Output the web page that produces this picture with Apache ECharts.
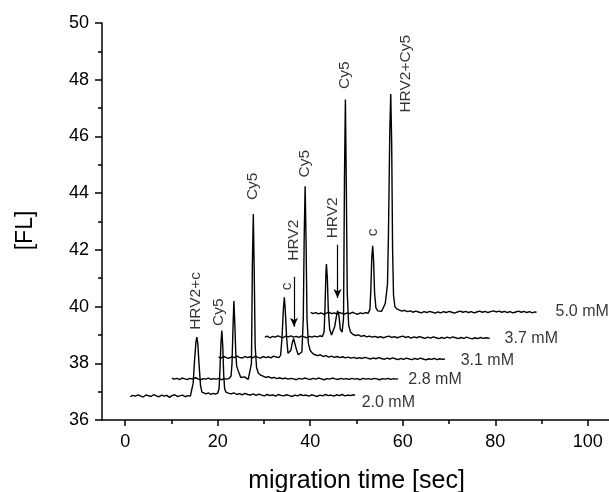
<!DOCTYPE html>
<html>
<head>
<meta charset="utf-8">
<script src="https://cdn.jsdelivr.net/npm/echarts@6/dist/echarts.min.js"></script>
<style>html,body{margin:0;padding:0;background:#fff}#c{width:609px;height:492px}</style>
</head>
<body>
<div id="c"></div>
<script>
// ---- data ----
const xTicks = [0, 20, 40, 60, 80, 100];
const xMinorTicks = [10, 30, 50, 70, 90];
const xTitle = 'migration time [sec]';
const yTitle = '[FL]';
const traceNames = ['2.0 mM', '2.8 mM', '3.1 mM', '3.7 mM', '5.0 mM'];

const trace20 = [[1.1,36.82],[1.6,36.87],[2.2,36.84],[2.8,36.89],[3.3,36.85],[3.9,36.81],[4.5,36.88],[5.0,36.86],[5.6,36.83],[6.2,36.9],[6.7,36.85],[7.3,36.82],[7.9,36.88],[8.4,36.84],[9.0,36.87],[9.6,36.8],[10.1,36.86],[10.7,36.89],[11.3,36.83],[11.8,36.85],[12.4,36.88],[13.0,36.82],[13.5,36.86],[14.1,36.84],
[14.4,36.9],[14.7,37.3],[15.0,38.1],[15.3,38.75],[15.5,38.92],[15.7,38.7],[16.0,37.9],[16.3,37.2],[16.6,36.98],
[17.0,36.95],[17.5,36.92],[18.0,36.96],[18.5,36.9],[19.0,36.94],[19.5,36.91],[20.0,36.95],
[20.3,37.1],[20.5,37.8],[20.7,38.7],[20.9,39.15],[21.1,38.6],[21.3,37.6],[21.5,37.1],[21.8,36.98],
[22.3,36.95],[22.9,36.92],[23.5,36.96],[24.1,36.9],[24.7,36.93],[25.3,36.89],[25.9,36.94],[26.5,36.9],[27.1,36.88],[27.7,36.92],[28.3,36.87],[28.9,36.91],[29.5,36.88],[30.1,36.85],[30.7,36.9],[31.3,36.86],[31.9,36.89],[32.5,36.84],[33.1,36.9],[33.7,36.87],[34.3,36.85],[34.9,36.89],[35.5,36.86],[36.1,36.83],[36.7,36.88],[37.3,36.85],[37.9,36.9],[38.5,36.86],[39.1,36.88],[39.7,36.84],[40.3,36.89],[40.9,36.86],[41.5,36.83],[42.1,36.88],[42.7,36.85],[43.3,36.9],[43.9,36.86],[44.5,36.88],[45.1,36.84],[45.7,36.89],[46.3,36.86],[46.9,36.9],[47.5,36.85],[48.1,36.88],[48.7,36.86],[49.3,36.89],[49.7,36.87]];

const trace28 = [[10.1,37.48],[10.6,37.44],[11.2,37.47],[11.8,37.42],[12.3,37.48],[12.9,37.45],[13.5,37.43],[14.0,37.47],[14.6,37.44],[15.2,37.49],[15.7,37.45],[16.3,37.42],[16.9,37.46],[17.4,37.44],[18.0,37.48],[18.6,37.43],[19.1,37.46],[19.7,37.44],[20.3,37.47],[20.8,37.42],[21.4,37.46],[22.0,37.44],[22.5,37.47],[22.9,37.55],
[23.1,38.0],[23.3,39.2],[23.5,40.2],[23.7,39.4],[23.9,38.4],[24.1,37.9],[24.4,37.75],[24.7,37.62],[25.0,37.5],[25.4,37.46],[25.8,37.52],[26.2,37.45],[26.6,37.43],[27.0,37.5],[27.3,38.0],
[27.5,41.5],[27.7,43.26],[27.9,41.2],[28.1,38.6],[28.4,37.85],[28.8,37.65],[29.3,37.58],[29.8,37.55],[30.4,37.5],[31.0,37.53],[31.6,37.48],[32.2,37.5],[32.8,37.46],[33.4,37.49],[34.0,37.45],[34.6,37.48],[35.2,37.44],[35.8,37.47],[36.4,37.45],[37.0,37.42],[37.6,37.47],[38.2,37.44],[38.8,37.48],[39.4,37.45],[40.0,37.43],[40.6,37.47],[41.2,37.44],[41.8,37.48],[42.4,37.45],[43.0,37.42],[43.6,37.46],[44.2,37.44],[44.8,37.48],[45.4,37.45],[46.0,37.43],[46.6,37.47],[47.2,37.44],[47.8,37.46],[48.4,37.43],[49.0,37.47],[49.6,37.44],[50.2,37.46],[50.8,37.42],[51.4,37.47],[52.0,37.44],[52.6,37.46],[53.2,37.43],[53.8,37.47],[54.4,37.45],[55.0,37.42],[55.6,37.46],[56.2,37.44],[56.8,37.47],[57.4,37.43],[58.0,37.46],[58.5,37.44],[59.0,37.45]];

const trace31 = [[20.2,38.22],[20.7,38.18],[21.3,38.24],[21.9,38.2],[22.4,38.17],[23.0,38.23],[23.6,38.2],[24.2,38.25],[24.7,38.21],[25.3,38.18],[25.9,38.24],[26.4,38.2],[27.0,38.23],[27.6,38.19],[28.1,38.25],[28.7,38.21],[29.3,38.18],[29.8,38.24],[30.4,38.2],[31.0,38.23],[31.5,38.19],[32.1,38.25],[32.7,38.22],[33.2,38.2],[33.6,38.28],
[33.9,38.9],[34.2,39.9],[34.4,40.33],[34.6,39.9],[34.9,38.9],[35.2,38.35],[35.5,38.3],[35.8,38.45],
[36.1,38.7],[36.4,38.88],[36.7,38.82],[37.0,38.5],[37.4,38.3],[37.8,38.25],[38.2,38.4],[38.5,39.6],
[38.7,42.5],[38.9,44.24],[39.1,42.3],[39.3,39.6],[39.6,38.7],[40.0,38.45],[40.5,38.35],[41.0,38.3],[41.6,38.27],[42.2,38.3],[42.8,38.24],[43.4,38.27],[44.0,38.22],[44.6,38.25],[45.2,38.21],[45.8,38.24],[46.4,38.2],[47.0,38.23],[47.6,38.19],[48.2,38.22],[48.8,38.18],[49.4,38.21],[50.0,38.17],[50.6,38.2],[51.2,38.17],[51.8,38.21],[52.4,38.18],[53.0,38.15],[53.6,38.19],[54.2,38.16],[54.8,38.2],[55.4,38.17],[56.0,38.14],[56.6,38.18],[57.2,38.15],[57.8,38.19],[58.4,38.16],[59.0,38.13],[59.6,38.17],[60.2,38.14],[60.8,38.18],[61.4,38.15],[62.0,38.13],[62.6,38.17],[63.2,38.14],[63.8,38.18],[64.4,38.15],[65.0,38.12],[65.6,38.16],[66.2,38.14],[66.8,38.17],[67.4,38.13],[68.0,38.16],[68.6,38.14],[69.1,38.15]];

const trace37 = [[30.2,38.92],[30.7,38.96],[31.3,38.9],[31.9,38.95],[32.4,38.92],[33.0,38.97],[33.6,38.93],[34.1,38.9],[34.7,38.96],[35.3,38.93],[35.8,38.97],[36.4,38.92],[37.0,38.95],[37.5,38.91],[38.1,38.96],[38.7,38.93],[39.2,38.9],[39.8,38.95],[40.4,38.92],[40.9,38.96],[41.5,38.93],[42.1,38.97],[42.6,38.94],[43.0,39.1],
[43.2,40.0],[43.4,41.2],[43.5,41.5],[43.7,41.0],[43.9,39.9],[44.2,39.2],[44.6,39.0],[45.0,39.05],[45.3,39.3],
[45.6,39.6],[45.9,39.85],[46.2,39.7],[46.5,39.2],[46.9,39.1],[47.2,39.6],
[47.4,44.5],[47.6,47.3],[47.8,44.2],[48.0,40.5],[48.3,39.35],[48.7,39.1],[49.2,39.02],[49.8,38.98],[50.4,39.0],[51.0,38.95],[51.6,38.98],[52.2,38.93],[52.8,38.96],[53.4,38.92],[54.0,38.95],[54.6,38.91],[55.2,38.94],[55.8,38.9],[56.4,38.93],[57.0,38.96],[57.6,38.91],[58.2,38.94],[58.8,38.9],[59.4,38.93],[60.0,38.96],[60.6,38.91],[61.2,38.94],[61.8,38.89],[62.4,38.93],[63.0,38.9],[63.6,38.94],[64.2,38.91],[64.8,38.88],[65.4,38.92],[66.0,38.89],[66.6,38.93],[67.2,38.9],[67.8,38.87],[68.4,38.91],[69.0,38.88],[69.6,38.92],[70.2,38.89],[70.8,38.93],[71.4,38.9],[72.0,38.87],[72.6,38.91],[73.2,38.88],[73.8,38.92],[74.4,38.89],[75.0,38.86],[75.6,38.9],[76.2,38.87],[76.8,38.91],[77.4,38.88],[78.0,38.9],[78.8,38.88]];

const trace50 = [[40.1,39.8],[40.6,39.75],[41.2,39.79],[41.8,39.74],[42.3,39.78],[42.9,39.73],[43.5,39.77],[44.0,39.8],[44.6,39.75],[45.2,39.78],[45.7,39.74],[46.3,39.79],[46.9,39.76],[47.4,39.73],[48.0,39.78],[48.6,39.75],[49.1,39.8],[49.7,39.76],[50.3,39.73],[50.8,39.78],[51.4,39.75],[52.0,39.79],[52.5,39.76],[52.9,39.9],
[53.1,40.6],[53.3,41.7],[53.5,42.14],[53.7,41.6],[53.9,40.5],[54.2,39.95],[54.6,39.85],[55.0,39.8],[55.4,39.83],[55.8,39.9],[56.2,40.1],[56.5,40.5],[56.7,40.8],
[56.9,42.5],[57.2,46.2],[57.4,47.5],[57.6,45.8],[57.8,42.0],[58.0,40.4],[58.3,40.0],[58.7,39.92],[59.2,39.88],[59.8,39.84],[60.4,39.87],[61.0,39.82],[61.6,39.85],[62.2,39.8],[62.8,39.84],[63.4,39.81],[64.0,39.78],[64.6,39.82],[65.2,39.79],[65.8,39.83],[66.4,39.8],[67.0,39.77],[67.6,39.81],[68.2,39.78],[68.8,39.82],[69.4,39.79],[70.0,39.83],[70.6,39.8],[71.2,39.77],[71.8,39.81],[72.4,39.84],[73.0,39.8],[73.6,39.83],[74.2,39.79],[74.8,39.82],[75.4,39.78],[76.0,39.81],[76.6,39.84],[77.2,39.8],[77.8,39.83],[78.4,39.79],[79.0,39.82],[79.6,39.85],[80.2,39.81],[80.8,39.84],[81.4,39.8],[82.0,39.83],[82.6,39.79],[83.2,39.82],[83.8,39.78],[84.4,39.81],[85.0,39.84],[85.6,39.8],[86.2,39.83],[86.8,39.79],[87.4,39.82],[88.0,39.78],[88.5,39.81],[88.9,39.8]];

// peak annotations: [x, y, text] (anchor = centre of the rotated text)
const peakLabels = [[15.35,40.2,'HRV2+c'],[20.15,39.8,'Cy5'],[27.6,44.24,'Cy5'],[34.9,40.71,'c'],[36.5,42.34,'HRV2'],[38.88,45.04,'Cy5'],[44.92,43.13,'HRV2'],[47.52,48.16,'Cy5'],[53.56,42.62,'c'],[60.7,48.21,'HRV2+Cy5']];
// arrows: [x, yFrom, yTo]
const arrows = [[36.5,41.05,39.29],[45.9,42.18,40.30]];
// concentration labels: [x (left edge), y, text]
const concLabels = [[51.0,36.61,'2.0 mM'],[61.1,37.41,'2.8 mM'],[72.4,38.09,'3.1 mM'],[81.9,38.86,'3.7 mM'],[92.9,39.82,'5.0 mM']];

const traces = [trace20, trace28, trace31, trace37, trace50];
const FONT = '"Liberation Sans", Arial, sans-serif';

const chart = echarts.init(document.getElementById('c'), null, {renderer: 'canvas'});
const series = traces.map((d, i) => ({
  name: traceNames[i], type: 'line', data: d, showSymbol: false, symbol: 'none',
  lineStyle: {color: '#000', width: 1.4}, z: 2, silent: true
}));
series.push({
  type: 'scatter', data: peakLabels, symbolSize: 1, itemStyle: {color: 'rgba(0,0,0,0)'},
  silent: true, z: 5,
  label: {show: true, position: 'inside', rotate: 90, formatter: p => p.data[2],
    color: '#000', fontSize: 15.5, fontFamily: FONT},
  markLine: {
    silent: true, symbol: ['none', 'arrow'], symbolSize: [6, 9], animation: false,
    label: {show: false},
    lineStyle: {color: '#000', width: 1.2, type: 'solid'},
    data: arrows.map(a => [{coord: [a[0], a[1]]}, {coord: [a[0], a[2]]}])
  }
});
series.push({
  type: 'scatter', data: concLabels, symbolSize: 1, itemStyle: {color: 'rgba(0,0,0,0)'},
  silent: true, z: 5,
  label: {show: true, position: 'right', distance: 0, formatter: p => p.data[2],
    color: '#000', fontSize: 16, fontFamily: FONT}
});

chart.setOption({
  animation: false,
  backgroundColor: '#fff',
  grid: {left: 102, top: 23, width: 509, height: 397, containLabel: false, outerBoundsMode: 'none'},
  xAxis: [{
    type: 'value', min: -5, max: 105,
    axisLine: {show: true, onZero: false, lineStyle: {color: '#000', width: 1.5}},
    axisTick: {show: true, inside: false, length: 6, customValues: xTicks, lineStyle: {color: '#000', width: 1.5}},
    axisLabel: {show: true, customValues: xTicks, margin: 13, color: '#000', fontSize: 18, fontFamily: FONT},
    splitLine: {show: false}
  }, {
    type: 'value', min: -5, max: 105, position: 'bottom',
    axisLine: {show: false},
    axisTick: {show: true, inside: false, length: 4, customValues: xMinorTicks, lineStyle: {color: '#000', width: 1.5}},
    axisLabel: {show: false},
    splitLine: {show: false}
  }],
  yAxis: {
    type: 'value', min: 36, max: 50, interval: 2,
    axisLine: {show: true, onZero: false, lineStyle: {color: '#000', width: 1.5}},
    axisTick: {show: true, inside: false, length: 7, lineStyle: {color: '#000', width: 1.5}},
    minorTick: {show: true, splitNumber: 2, length: 4, lineStyle: {color: '#000', width: 1.5}},
    axisLabel: {margin: 13, color: '#000', fontSize: 18, fontFamily: FONT},
    splitLine: {show: false}
  },
  graphic: [
    {type: 'text', x: 356.5, y: 481, style: {text: xTitle, fontSize: 25, fontFamily: FONT, fill: '#000', align: 'center', verticalAlign: 'middle'}},
    {type: 'text', x: 26, y: 230.5, rotation: Math.PI / 2, style: {text: yTitle, fontSize: 23, fontFamily: FONT, fill: '#000', align: 'center', verticalAlign: 'middle'}}
  ],
  series: series
});
</script>
</body>
</html>
